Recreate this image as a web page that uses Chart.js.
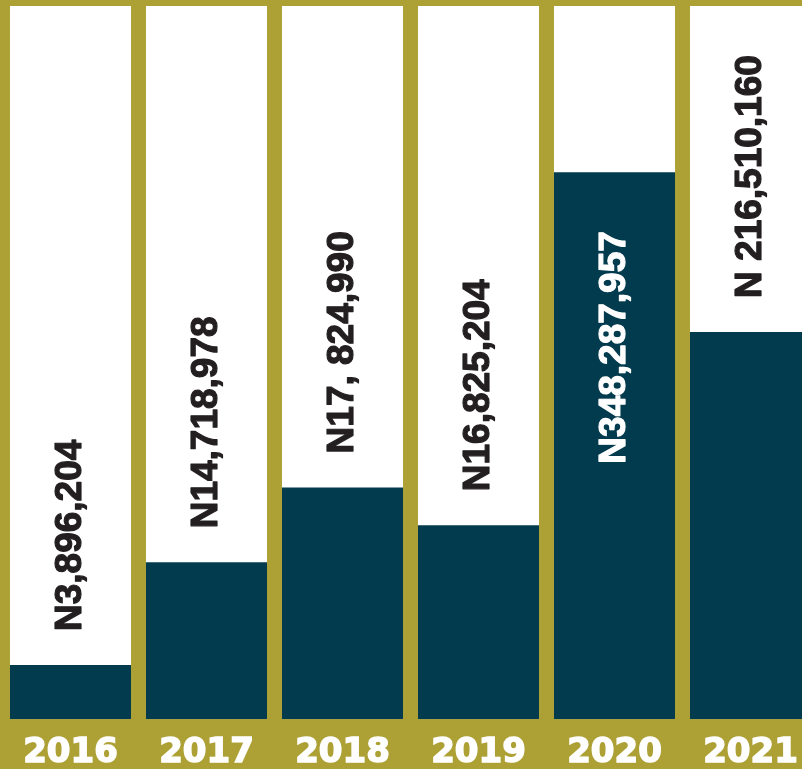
<!DOCTYPE html>
<html lang="en">
<head>
  <meta charset="UTF-8">
  <title>Yearly Amounts</title>
  <script src="https://cdn.jsdelivr.net/npm/chart.js"></script>
  <style>
    html, body { margin: 0; padding: 0; background: #ada135; }
    .frame { width: 802px; height: 769px; overflow: hidden; background: #ada135; }
    canvas { display: block; }
  </style>
</head>
<body>
  <div class="frame">
    <canvas id="yearChart" width="821" height="787"></canvas>
  </div>

  <script>
    // years along the bottom
    const years = ['2016', '2017', '2018', '2019', '2020', '2021'];
    // bar heights as share of the full column (read off the picture, not to scale with amounts)
    const barHeights = [7.6, 22.0, 32.5, 27.2, 76.7, 54.3];
    // full column behind each bar
    const columnFull = [100, 100, 100, 100, 100, 100];
    // amount labels printed in each column
    const amountLabels = ['N3,896,204', 'N14,718,978', 'N17, 824,990', 'N16,825,204', 'N348,287,957', 'N 216,510,160'];
    // true when the label sits inside the dark bar
    const labelInside = [false, false, false, false, true, false];

    const TEAL = '#033b4e';

    // draws the rotated amount text in each column
    const amountText = {
      id: 'amountText',
      afterDatasetsDraw(chart) {
        const ctx = chart.ctx;
        const meta = chart.getDatasetMeta(0);
        ctx.save();
        ctx.font = 'bold 37px "Liberation Sans", Arial, sans-serif';
        ctx.textBaseline = 'middle';
        ctx.lineWidth = 1.2;
        ctx.lineJoin = 'round';
        meta.data.forEach((bar, i) => {
          const inside = labelInside[i];
          const y = inside ? bar.y + 59 : bar.y - 34;
          const col = inside ? '#ffffff' : '#231f20';
          ctx.save();
          ctx.translate(bar.x, y);
          ctx.rotate(-Math.PI / 2);
          ctx.fillStyle = col;
          ctx.strokeStyle = col;
          ctx.textAlign = inside ? 'right' : 'left';
          ctx.fillText(amountLabels[i], 0, 0);
          ctx.strokeText(amountLabels[i], 0, 0);
          ctx.restore();
        });
        ctx.restore();
      }
    };

    const ctx = document.getElementById('yearChart').getContext('2d');
    new Chart(ctx, {
      type: 'bar',
      data: {
        labels: years,
        datasets: [
          {
            data: barHeights,
            backgroundColor: TEAL,
            order: 1,
            grouped: false,
            categoryPercentage: 1,
            barPercentage: 0.89
          },
          {
            data: columnFull,
            backgroundColor: '#ffffff',
            order: 2,
            grouped: false,
            categoryPercentage: 1,
            barPercentage: 0.89
          }
        ]
      },
      options: {
        responsive: false,
        animation: false,
        layout: { padding: { left: 2.5, right: 2.5, top: 6, bottom: 0 } },
        plugins: {
          legend: { display: false },
          tooltip: { enabled: false }
        },
        scales: {
          y: { display: false, min: 0, max: 100, ticks: { display: false } },
          x: {
            border: { display: false },
            grid: { display: false, drawTicks: false },
            ticks: {
              color: '#ffffff',
              textStrokeColor: '#ffffff',
              textStrokeWidth: 1.5,
              padding: 13.5,
              font: { family: '"DejaVu Sans", sans-serif', weight: 'bold', size: 34 }
            }
          }
        }
      },
      plugins: [amountText]
    });
  </script>
</body>
</html>
